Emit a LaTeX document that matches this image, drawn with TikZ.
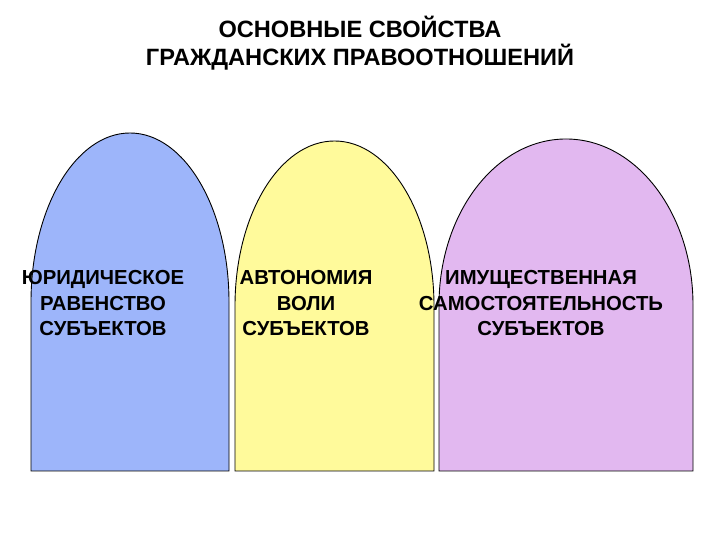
\documentclass[tikz,border=0pt]{standalone}
\usepackage{fontspec}
\setmainfont{Liberation Sans}
\newfontfamily\archbold{Liberation Sans Bold}
\definecolor{archblue}{RGB}{157,181,250}
\definecolor{archyellow}{RGB}{255,250,155}
\definecolor{archpink}{RGB}{226,184,240}
\tikzset{
  arch/.style={draw=black, line width=0.9pt},
  titletext/.style={font=\archbold\fontsize{23.6}{28}\selectfont, inner sep=0pt, align=center, anchor=base},
  boxtext/.style={font=\archbold\fontsize{20.3}{25.5}\selectfont, inner sep=0pt, align=center, anchor=base}
}
\begin{document}
\begin{tikzpicture}[x=1pt,y=1pt]
\useasboundingbox (0,0) rectangle (720,540);
\fill[white] (0,0) rectangle (720,540);
% arches
\draw[arch, fill=archblue] (31,69) -- (31,238) arc[start angle=180, end angle=0, x radius=99, y radius=169] -- (229,69) -- cycle;
\draw[arch, fill=archyellow] (235,69) -- (235,234) arc[start angle=180, end angle=0, x radius=99.5, y radius=165] -- (434,69) -- cycle;
\draw[arch, fill=archpink] (439,69) -- (439,235) arc[start angle=180, end angle=0, x radius=127, y radius=166] -- (693,69) -- cycle;
% title
\node[titletext] (title) at (360,474) {ОСНОВНЫЕ СВОЙСТВА\\ГРАЖДАНСКИХ ПРАВООТНОШЕНИЙ};
% texts
\node[boxtext] (b1) at (103,204) {ЮРИДИЧЕСКОЕ\\РАВЕНСТВО\\СУБЪЕКТОВ};
\node[boxtext] (b2) at (306,204) {АВТОНОМИЯ\\ВОЛИ\\СУБЪЕКТОВ};
\node[boxtext] (b3) at (541,204) {ИМУЩЕСТВЕННАЯ\\САМОСТОЯТЕЛЬНОСТЬ\\СУБЪЕКТОВ};
\end{tikzpicture}
\end{document}
